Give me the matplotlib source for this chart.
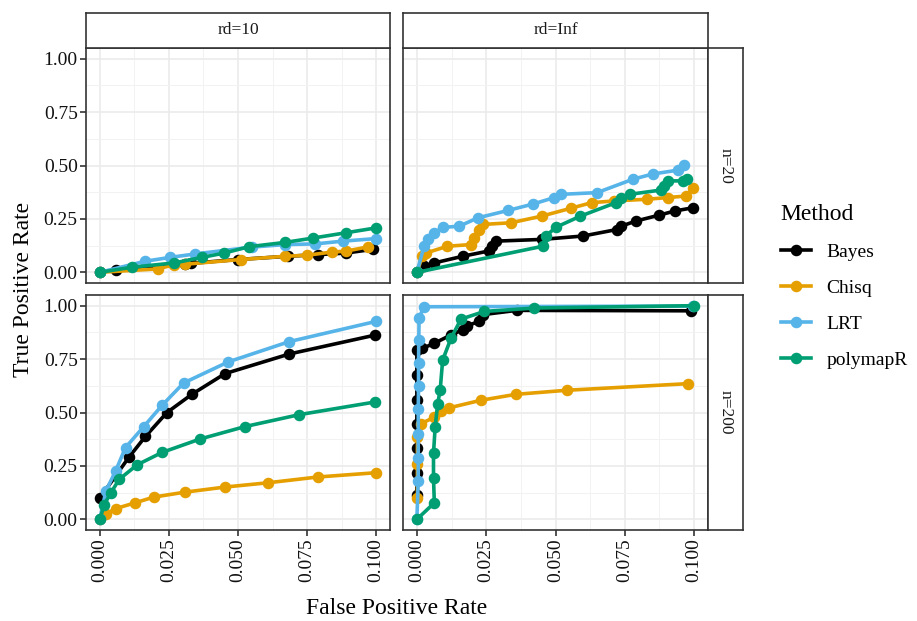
import matplotlib
matplotlib.use("Agg")
from matplotlib import pyplot as plt
from matplotlib.lines import Line2D
import numpy as np

plt.rcParams['font.family'] = ['Liberation Serif', 'DejaVu Serif']

methods = ["Bayes", "Chisq", "LRT", "polymapR"]
colors = {"Bayes": "#000000", "Chisq": "#E69F00", "LRT": "#56B4E9", "polymapR": "#009E73"}
rd_levels = ["rd=10", "rd=Inf"]
n_levels = ["n=20", "n=200"]

# ---- rd=10, n=20
fpr_10_20 = {
    "Bayes": [0, 0.0057, 0.031, 0.033, 0.050, 0.068, 0.079, 0.089, 0.099],
    "Chisq": [0, 0.021, 0.027, 0.031, 0.051, 0.067, 0.075, 0.084, 0.089, 0.097],
    "LRT": [0, 0.0165, 0.0255, 0.0345, 0.055, 0.067, 0.078, 0.088, 0.100],
    "polymapR": [0, 0.0117, 0.027, 0.037, 0.045, 0.054, 0.067, 0.077, 0.089, 0.100],
}
tpr_10_20 = {
    "Bayes": [0, 0.0125, 0.038, 0.042, 0.060, 0.075, 0.083, 0.090, 0.108],
    "Chisq": [0, 0.016, 0.036, 0.038, 0.060, 0.075, 0.080, 0.095, 0.099, 0.119],
    "LRT": [0, 0.052, 0.070, 0.086, 0.118, 0.130, 0.133, 0.146, 0.158],
    "polymapR": [0, 0.024, 0.044, 0.070, 0.090, 0.120, 0.140, 0.160, 0.185, 0.208],
}

# ---- rd=Inf, n=20
fpr_inf_20 = {
    "Bayes": [0, 0.0026, 0.0063, 0.0165, 0.026, 0.027, 0.0285, 0.045, 0.060, 0.072,
              0.0737, 0.079, 0.0875, 0.093, 0.0995],
    "Chisq": [0, 0.002, 0.0032, 0.011, 0.0195, 0.0205, 0.0225, 0.0237, 0.034, 0.045,
              0.0556, 0.063, 0.071, 0.083, 0.0905, 0.097, 0.0995],
    "LRT": [0, 0.0026, 0.0039, 0.0063, 0.0093, 0.0153, 0.022, 0.033, 0.042, 0.0496,
            0.052, 0.065, 0.078, 0.085, 0.094, 0.0965],
    "polymapR": [0, 0.0454, 0.0466, 0.050, 0.059, 0.0718, 0.0737, 0.0767, 0.088,
                 0.089, 0.0905, 0.096, 0.0975],
}
tpr_inf_20 = {
    "Bayes": [0, 0.028, 0.044, 0.075, 0.100, 0.122, 0.146, 0.154, 0.170, 0.200,
              0.216, 0.240, 0.268, 0.287, 0.302],
    "Chisq": [0, 0.075, 0.090, 0.122, 0.130, 0.160, 0.200, 0.224, 0.232, 0.263,
              0.300, 0.326, 0.334, 0.342, 0.350, 0.357, 0.393],
    "LRT": [0, 0.122, 0.157, 0.185, 0.210, 0.216, 0.255, 0.290, 0.320, 0.350,
            0.365, 0.373, 0.436, 0.460, 0.478, 0.503],
    "polymapR": [0, 0.122, 0.170, 0.210, 0.263, 0.326, 0.346, 0.365, 0.385, 0.404,
                 0.428, 0.428, 0.439],
}

# ---- rd=10, n=200
fpr_10_200 = {
    "Bayes": [0, 0.0105, 0.0165, 0.0243, 0.0333, 0.0453, 0.0686, 0.0995],
    "Chisq": [0, 0.0022, 0.0057, 0.0127, 0.0195, 0.0307, 0.0453, 0.0608, 0.0788, 0.0998],
    "LRT": [0, 0.0022, 0.0057, 0.0093, 0.0159, 0.0225, 0.0303, 0.0465, 0.0686, 0.0998],
    "polymapR": [0, 0.0016, 0.004, 0.007, 0.0135, 0.0225, 0.0363, 0.0525, 0.0722, 0.0995],
}
tpr_10_200 = {
    "Bayes": [0.10, 0.29, 0.388, 0.50, 0.585, 0.682, 0.774, 0.862],
    "Chisq": [0, 0.025, 0.050, 0.077, 0.104, 0.127, 0.151, 0.171, 0.198, 0.218],
    "LRT": [0, 0.132, 0.226, 0.336, 0.434, 0.533, 0.638, 0.737, 0.832, 0.926],
    "polymapR": [0, 0.069, 0.124, 0.187, 0.255, 0.313, 0.376, 0.434, 0.490, 0.549],
}

# ---- rd=Inf, n=200
fpr_inf_200 = {
    "Bayes": [0, 0, 0, 0, 0, 0, 0, 0.002, 0.0063, 0.0123, 0.0165, 0.018, 0.0225,
              0.0237, 0.036, 0.099],
    "Chisq": [0.0002, 0.0002, 0.0002, 0.0014, 0.0063, 0.0087, 0.0117, 0.023, 0.0357,
              0.054, 0.0977],
    "LRT": [0, 0.0005, 0.0005, 0.0005, 0.0005, 0.0006, 0.0006, 0.0007, 0.0008,
            0.0025, 0.0995],
    "polymapR": [0, 0.0063, 0.006, 0.006, 0.0066, 0.0075, 0.0084, 0.0093, 0.0123,
                 0.0159, 0.0243, 0.0424, 0.100],
}
tpr_inf_200 = {
    "Bayes": [0.116, 0.219, 0.336, 0.447, 0.557, 0.675, 0.793, 0.80, 0.824, 0.863,
              0.887, 0.906, 0.926, 0.958, 0.978, 0.976],
    "Chisq": [0.10, 0.258, 0.384, 0.447, 0.478, 0.506, 0.522, 0.557, 0.585, 0.604, 0.635],
    "LRT": [0, 0.178, 0.289, 0.399, 0.516, 0.626, 0.733, 0.840, 0.942, 0.995, 0.998],
    "polymapR": [0, 0.077, 0.195, 0.310, 0.431, 0.541, 0.604, 0.745, 0.847, 0.937,
                 0.973, 0.989, 1.0],
}

panels = {
    (0, 0): (fpr_10_20, tpr_10_20),
    (0, 1): (fpr_inf_20, tpr_inf_20),
    (1, 0): (fpr_10_200, tpr_10_200),
    (1, 1): (fpr_inf_200, tpr_inf_200),
}

W, H = 917, 621
fig = plt.figure(figsize=(W / 100, H / 100), dpi=100)

def px_axes(x0, y0, x1, y1):
    return fig.add_axes([x0 / W, 1 - y1 / H, (x1 - x0) / W, (y1 - y0) / H])

col_x = [(86, 390), (403, 708)]
row_y = [(48, 283), (295, 530)]
border = "#333333"

for (r, c), (fpr, tpr) in panels.items():
    ax = px_axes(col_x[c][0], row_y[r][0], col_x[c][1], row_y[r][1])
    ax.set_xlim(-0.005, 0.105)
    ax.set_ylim(-0.05, 1.05)
    ax.set_xticks(np.arange(0, 0.101, 0.025))
    ax.set_xticks(np.arange(0.0125, 0.1, 0.025), minor=True)
    ax.set_yticks(np.arange(0, 1.01, 0.25))
    ax.set_yticks(np.arange(0.125, 1.0, 0.25), minor=True)
    ax.grid(True, which="major", color="#EBEBEB", linewidth=1.2)
    ax.grid(True, which="minor", color="#F2F2F2", linewidth=0.7)
    ax.set_axisbelow(True)
    for s in ax.spines.values():
        s.set_color(border)
        s.set_linewidth(1.2)
    ax.tick_params(which="minor", length=0)
    ax.tick_params(which="major", length=4, width=1.2, color=border,
                   labelsize=14, labelcolor="#111111", pad=2)
    if c == 0:
        ax.set_yticklabels(["0.00", "0.25", "0.50", "0.75", "1.00"])
    else:
        ax.tick_params(axis="y", which="major", length=0, labelleft=False)
    if r == 1:
        ax.set_xticklabels(["0.000", "0.025", "0.050", "0.075", "0.100"], rotation=90)
    else:
        ax.tick_params(axis="x", which="major", length=0, labelbottom=False)
    for m in methods:
        ax.plot(fpr[m], tpr[m], color=colors[m], linewidth=2.6, marker="o",
                markersize=7.3, solid_joinstyle="round", clip_on=False)

# strips
for c in range(2):
    sax = px_axes(col_x[c][0], 13, col_x[c][1], 48)
    sax.set_xticks([]); sax.set_yticks([])
    for s in sax.spines.values():
        s.set_color(border); s.set_linewidth(1.2)
    sax.text(0.5, 0.5, rd_levels[c], ha="center", va="center", fontsize=12.5,
             color="#1A1A1A", transform=sax.transAxes)
for r in range(2):
    sax = px_axes(708, row_y[r][0], 743, row_y[r][1])
    sax.set_xticks([]); sax.set_yticks([])
    for s in sax.spines.values():
        s.set_color(border); s.set_linewidth(1.2)
    sax.text(0.5, 0.5, n_levels[r], ha="center", va="center", fontsize=12.5,
             rotation=-90, color="#1A1A1A", transform=sax.transAxes)

fig.text(397 / W, 1 - 608 / H, "False Positive Rate", ha="center", va="center", fontsize=17)
fig.text(24 / W, 1 - 289 / H, "True Positive Rate", ha="center", va="center",
         rotation=90, fontsize=17)

handles = [Line2D([], [], color=colors[m], linewidth=2.6, marker="o", markersize=7.3)
           for m in methods]
leg = fig.legend(handles, methods, loc="upper left", bbox_to_anchor=(763 / W, 1 - 186 / H),
                 frameon=False, title="Method", fontsize=14, title_fontsize=17,
                 handlelength=1.55, labelspacing=0.95, handletextpad=0.8)
leg._legend_box.align = "left"

fig.savefig("out.png", dpi=100)
